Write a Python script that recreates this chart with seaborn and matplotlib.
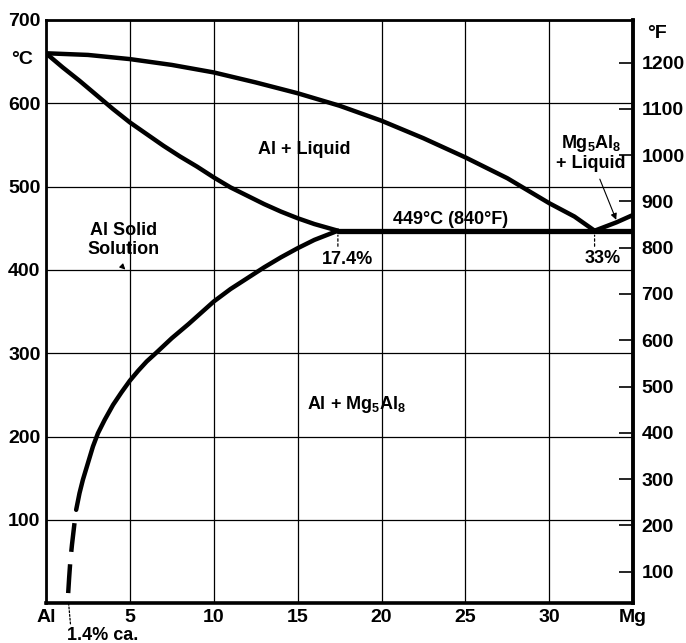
import matplotlib
matplotlib.use("Agg")
from matplotlib import pyplot as plt
import numpy as np
import pandas as pd
import seaborn as sns

# Liquidus Al -> eutectic (wt % Mg, deg C)
liq_x = [0.0, 2.5, 5.0, 7.5, 10.0, 12.5, 15.0, 17.5, 20.0, 22.5, 25.0, 27.5, 30.0, 31.5, 32.7]
liq_t = [660, 658, 653, 646, 637, 625, 612, 597, 579, 558, 535, 510, 480, 464, 447]

# Solidus Al -> 17.4 %
sol_x = [0.0, 1, 2, 3, 4, 5, 6, 7, 8, 9, 10, 11, 12, 13, 14, 15, 16, 17.4]
sol_t = [660, 643, 627, 610, 593, 577, 563, 549, 536, 524, 511, 499, 489, 479, 470, 462, 455, 447]

# Solvus 17.4 % -> 1.8 % (solid part)
solv_x = [17.4, 16.0, 15.0, 14.0, 13.0, 12.0, 11.0, 10.0, 8.5, 7.5, 6.6, 6.0, 5.5, 5.0,
          4.5, 4.0, 3.5, 3.1, 2.8, 2.5, 2.2, 2.0, 1.8]
solv_t = [447, 436, 426, 415, 403, 390, 377, 362, 335, 318, 301, 290, 279, 267,
          253, 238, 220, 204, 188, 168, 148, 132, 112]

# Solvus, uncertain (dashed) part down to ~1.4 %
solv_dash_x = [1.7, 1.55, 1.45, 1.38, 1.3]
solv_dash_t = [96, 70, 50, 30, 4]

# Eutectic horizontal
eut_x = [17.4, 35.0]
eut_t = [447, 447]

# Mg5Al8 liquidus
mg_x = [32.7, 34.0, 35.0]
mg_t = [447, 457, 466]

x_ticks = [0, 5, 10, 15, 20, 25, 30, 35]
x_labels = ["Al", "5", "10", "15", "20", "25", "30", "Mg"]
c_ticks = [100, 200, 300, 400, 500, 600, 700]
f_ticks = [100, 200, 300, 400, 500, 600, 700, 800, 900, 1000, 1100, 1200]

sns.set_style("white")
plt.rcParams["font.family"] = ["Liberation Sans", "DejaVu Sans"]
plt.rcParams["mathtext.default"] = "regular"
plt.rcParams["text.color"] = "black"

fig = plt.figure(figsize=(6.86, 6.43), dpi=100)
ax = fig.add_axes([0.067, 0.062, 0.856, 0.907])

lw = 3.2
kw = dict(ax=ax, color="black", lw=lw, sort=False, estimator=None)
sns.lineplot(x=liq_x, y=liq_t, **kw)
sns.lineplot(x=sol_x, y=sol_t, **kw)
sns.lineplot(x=solv_x, y=solv_t, **kw)
sns.lineplot(x=solv_dash_x, y=solv_dash_t, linestyle=(0, (6.5, 2.8)), **kw)
sns.lineplot(x=eut_x, y=eut_t, ax=ax, color="black", lw=lw + 0.6, sort=False, estimator=None)
sns.lineplot(x=mg_x, y=mg_t, **kw)

ax.set_xlim(0, 35)
ax.set_ylim(0, 700)
ax.set_xticks(x_ticks)
ax.set_xticklabels(x_labels, fontsize=14, fontweight="bold")
ax.set_yticks(c_ticks)
ax.set_yticklabels([str(v) for v in c_ticks], fontsize=14, fontweight="bold")
ax.tick_params(axis="both", length=0, pad=4, colors="black")
ax.set_xlabel("")
ax.set_ylabel("")

# grid
ax.grid(True, color="black", lw=0.9)
for s in ax.spines.values():
    s.set_color("black")
    s.set_linewidth(2)
ax.spines["bottom"].set_linewidth(2.6)
ax.spines["right"].set_linewidth(2.6)

# right axis in deg F
sec = ax.secondary_yaxis("right", functions=(lambda c: c * 9 / 5 + 32, lambda f: (f - 32) * 5 / 9))
sec.set_yticks(f_ticks)
sec.set_yticklabels([str(v) for v in f_ticks], fontsize=14, fontweight="bold")
sec.tick_params(direction="in", length=10, width=1.2, pad=6, colors="black")
sec.spines["right"].set_linewidth(2.6)

# unit labels
ax.text(-1.45, 652, "°C", ha="center", va="center", fontsize=14, fontweight="bold", clip_on=False)
ax.text(36.4, 684, "°F", ha="center", va="center", fontsize=14, fontweight="bold", clip_on=False)

# region labels
txt = dict(fontsize=13, fontweight="bold", ha="center", va="center")
ax.text(15.4, 544, "Al + Liquid", **txt)
ax.text(24.1, 460, "449°C (840°F)", **txt)
ax.text(18.0, 412, "17.4%", **txt)
ax.text(33.2, 414, "33%", **txt)
ax.text(4.65, 436, "Al Solid\nSolution", linespacing=1.15, **txt)
ax.text(18.5, 238, r"Al + Mg$_5$Al$_8$", **txt)
ax.text(32.5, 541, "Mg$_5$Al$_8$\n+ Liquid", linespacing=1.1, **txt)

# leaders
ax.annotate("", xy=(17.4, 445), xytext=(17.4, 425),
            arrowprops=dict(arrowstyle="-", ls=(0, (2, 2)), lw=0.9, color="black"))
ax.annotate("", xy=(32.7, 445), xytext=(32.7, 425),
            arrowprops=dict(arrowstyle="-", ls=(0, (2, 2)), lw=0.9, color="black"))
ax.annotate("", xy=(34.05, 457), xytext=(32.95, 512),
            arrowprops=dict(arrowstyle="-|>", lw=0.8, color="black", mutation_scale=9))
ax.annotate("", xy=(4.85, 398), xytext=(4.45, 406),
            arrowprops=dict(arrowstyle="-|>", lw=0.8, color="black", mutation_scale=8))
ax.annotate("1.4% ca.", xy=(1.35, 0), xytext=(3.4, -39), ha="center", va="center",
            fontsize=13, fontweight="bold", annotation_clip=False,
            arrowprops=dict(arrowstyle="-", ls=(0, (1.5, 1.5)), lw=0.9, color="black",
                            relpos=(0.05, 0.9), shrinkA=0, shrinkB=0))

plt.savefig("out.png", dpi=100)
